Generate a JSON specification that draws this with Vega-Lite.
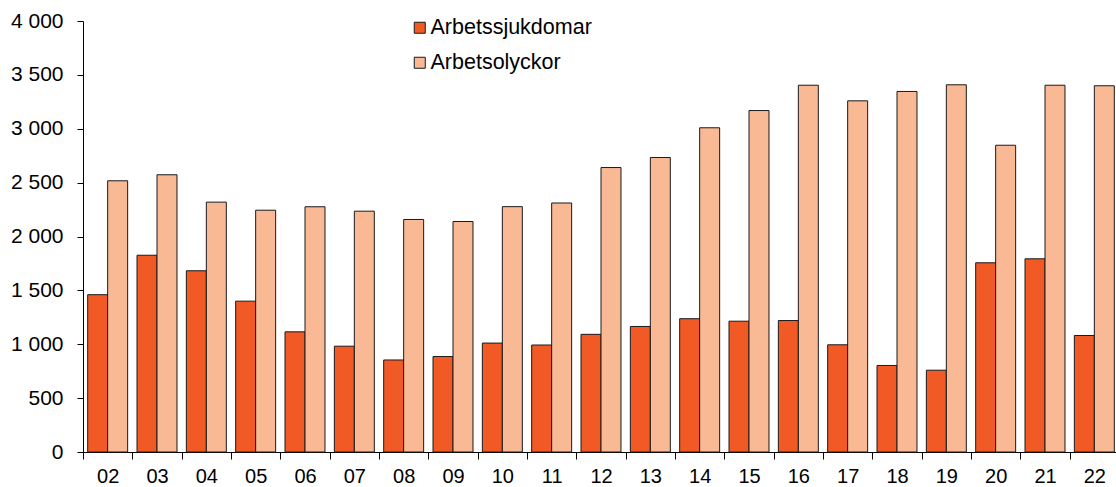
{
  "$schema": "https://vega.github.io/schema/vega-lite/v6.json",
  "width": 1036,
  "height": 431,
  "autosize": {"type": "none"},
  "padding": {"left": 83, "top": 21, "right": 0, "bottom": 35},
  "config": {
    "view": {"stroke": null},
    "font": "Liberation Sans",
    "axis": {"labelFont": "Liberation Sans", "labelFontSize": 21, "labelColor": "#000", "domainColor": "#000", "tickColor": "#000", "domainWidth": 1, "tickWidth": 1, "grid": false, "title": null}
  },
  "data": {
    "values": [
      {"year": "02", "typ": "Arbetssjukdomar", "antal": 1460},
      {"year": "02", "typ": "Arbetsolyckor", "antal": 2517},
      {"year": "03", "typ": "Arbetssjukdomar", "antal": 1826},
      {"year": "03", "typ": "Arbetsolyckor", "antal": 2573},
      {"year": "04", "typ": "Arbetssjukdomar", "antal": 1682},
      {"year": "04", "typ": "Arbetsolyckor", "antal": 2319},
      {"year": "05", "typ": "Arbetssjukdomar", "antal": 1400},
      {"year": "05", "typ": "Arbetsolyckor", "antal": 2244},
      {"year": "06", "typ": "Arbetssjukdomar", "antal": 1115},
      {"year": "06", "typ": "Arbetsolyckor", "antal": 2276},
      {"year": "07", "typ": "Arbetssjukdomar", "antal": 982},
      {"year": "07", "typ": "Arbetsolyckor", "antal": 2235},
      {"year": "08", "typ": "Arbetssjukdomar", "antal": 854},
      {"year": "08", "typ": "Arbetsolyckor", "antal": 2158},
      {"year": "09", "typ": "Arbetssjukdomar", "antal": 886},
      {"year": "09", "typ": "Arbetsolyckor", "antal": 2139},
      {"year": "10", "typ": "Arbetssjukdomar", "antal": 1011},
      {"year": "10", "typ": "Arbetsolyckor", "antal": 2277},
      {"year": "11", "typ": "Arbetssjukdomar", "antal": 993},
      {"year": "11", "typ": "Arbetsolyckor", "antal": 2311},
      {"year": "12", "typ": "Arbetssjukdomar", "antal": 1092},
      {"year": "12", "typ": "Arbetsolyckor", "antal": 2640},
      {"year": "13", "typ": "Arbetssjukdomar", "antal": 1165},
      {"year": "13", "typ": "Arbetsolyckor", "antal": 2733},
      {"year": "14", "typ": "Arbetssjukdomar", "antal": 1237},
      {"year": "14", "typ": "Arbetsolyckor", "antal": 3009},
      {"year": "15", "typ": "Arbetssjukdomar", "antal": 1214},
      {"year": "15", "typ": "Arbetsolyckor", "antal": 3169},
      {"year": "16", "typ": "Arbetssjukdomar", "antal": 1220},
      {"year": "16", "typ": "Arbetsolyckor", "antal": 3404},
      {"year": "17", "typ": "Arbetssjukdomar", "antal": 995},
      {"year": "17", "typ": "Arbetsolyckor", "antal": 3259},
      {"year": "18", "typ": "Arbetssjukdomar", "antal": 803},
      {"year": "18", "typ": "Arbetsolyckor", "antal": 3346},
      {"year": "19", "typ": "Arbetssjukdomar", "antal": 759},
      {"year": "19", "typ": "Arbetsolyckor", "antal": 3408},
      {"year": "20", "typ": "Arbetssjukdomar", "antal": 1756},
      {"year": "20", "typ": "Arbetsolyckor", "antal": 2847},
      {"year": "21", "typ": "Arbetssjukdomar", "antal": 1793},
      {"year": "21", "typ": "Arbetsolyckor", "antal": 3404},
      {"year": "22", "typ": "Arbetssjukdomar", "antal": 1081},
      {"year": "22", "typ": "Arbetsolyckor", "antal": 3399}
    ]
  },
  "mark": {"type": "bar", "stroke": "#1a1a1a", "strokeWidth": 1},
  "encoding": {
    "x": {
      "field": "year", "type": "nominal", "sort": null,
      "scale": {"paddingInner": 0, "paddingOuter": 0},
      "axis": {"labelAngle": 0, "tickBand": "extent", "tickSize": 7, "labelPadding": 7, "labelFontSize": 20}
    },
    "xOffset": {
      "field": "typ", "type": "nominal",
      "sort": ["Arbetssjukdomar", "Arbetsolyckor"],
      "scale": {"paddingInner": 0, "paddingOuter": 0.234}
    },
    "y": {
      "field": "antal", "type": "quantitative",
      "scale": {"domain": [0, 4000], "nice": false},
      "axis": {"values": [0, 500, 1000, 1500, 2000, 2500, 3000, 3500, 4000], "tickSize": 6, "labelPadding": 14, "labelExpr": "replace(format(datum.value, ','), ',', ' ')"}
    },
    "fill": {
      "field": "typ", "type": "nominal",
      "sort": ["Arbetssjukdomar", "Arbetsolyckor"],
      "scale": {"domain": ["Arbetssjukdomar", "Arbetsolyckor"], "range": ["#F15A24", "#F9B995"]},
      "legend": {
        "title": null, "orient": "none", "legendX": 326, "legendY": -4,
        "symbolType": "square", "symbolSize": 121, "symbolStrokeColor": "#1a1a1a", "symbolStrokeWidth": 1,
        "labelFontSize": 21.5, "labelFont": "Liberation Sans", "labelColor": "#000", "labelOffset": 0, "labelLimit": 0, "rowPadding": 12, "padding": 0
      }
    }
  }
}
